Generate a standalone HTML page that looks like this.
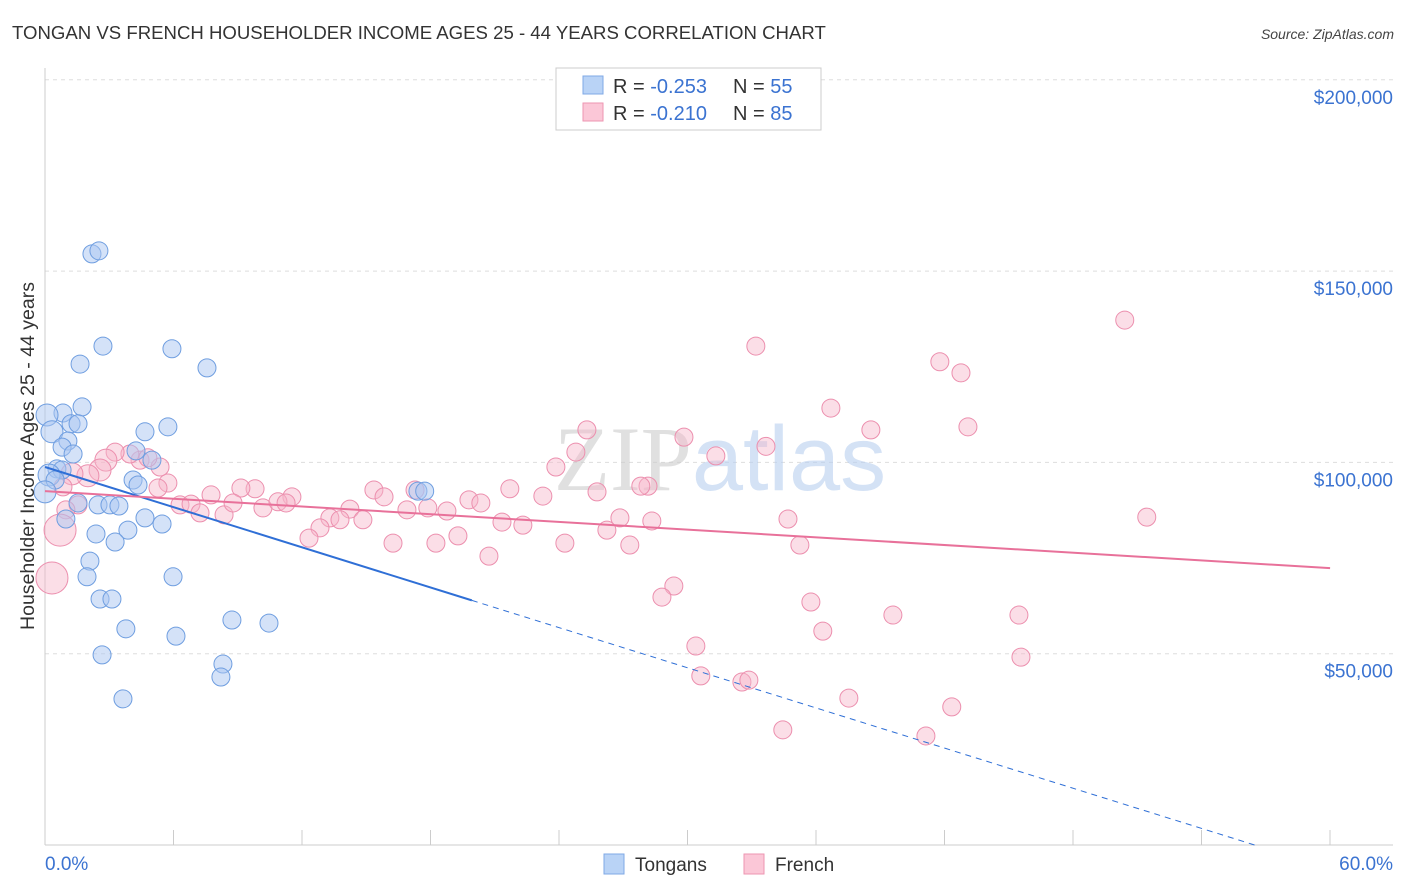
<!DOCTYPE html>
<html><head><meta charset="utf-8"><style>
body{margin:0;background:#fff;font-family:"Liberation Sans",sans-serif;}
svg{display:block}
</style></head><body>
<svg id="chart" width="1406" height="892" viewBox="0 0 1406 892" xmlns="http://www.w3.org/2000/svg">
<text x="12" y="39" font-size="18.6" fill="#333">TONGAN VS FRENCH HOUSEHOLDER INCOME AGES 25 - 44 YEARS CORRELATION CHART</text>
<text x="1394" y="39" font-size="14" font-style="italic" fill="#444" text-anchor="end">Source: ZipAtlas.com</text>
<g id="grid"></g>
<g id="axes"></g>
<text x="720" y="490" font-size="92" text-anchor="middle" fill="#ddd" opacity="0.6"><tspan font-family="Liberation Serif" fill="#ccc">ZIP</tspan><tspan fill="#b8cff0">atlas</tspan></text>
<g id="pts"></g>
<g id="lines"></g>
<text transform="translate(34,456) rotate(-90)" font-size="19.5" fill="#333" text-anchor="middle">Householder Income Ages 25 - 44 years</text>
<g>
<rect x="556" y="68" width="265" height="62" fill="#fff" stroke="#ccc"/>
<rect x="583" y="76" width="20" height="18" fill="#b9d3f6" stroke="#7fa8e6"/>
<rect x="583" y="103" width="20" height="18" fill="#fbc7d7" stroke="#ee96b2"/>
<text x="613" y="93" font-size="20" fill="#333">R = <tspan fill="#3b73d1">-0.253</tspan></text>
<text x="733" y="93" font-size="20" fill="#333">N = <tspan fill="#3b73d1">55</tspan></text>
<text x="613" y="120" font-size="20" fill="#333">R = <tspan fill="#3b73d1">-0.210</tspan></text>
<text x="733" y="120" font-size="20" fill="#333">N = <tspan fill="#3b73d1">85</tspan></text>
</g>
<g>
<rect x="604" y="854" width="20" height="20" fill="#b9d3f6" stroke="#7fa8e6"/>
<text x="635" y="871" font-size="19" fill="#333">Tongans</text>
<rect x="744" y="854" width="20" height="20" fill="#fbc7d7" stroke="#ee96b2"/>
<text x="775" y="871" font-size="19" fill="#333">French</text>
</g>
</svg>
<script>
const yTicks=[50000,100000,150000,200000];
const yTickLabels=["$50,000","$100,000","$150,000","$200,000"];
const xEndLabels=["0.0%","60.0%"];
const tongX=[2.09,2.40,2.58,5.65,1.56,7.21,1.65,0.80,0.09,1.16,1.47,5.47,4.45,0.31,1.02,0.76,4.05,1.25,4.76,0.53,0.76,0.18,0.45,3.92,4.14,0.0,1.47,2.36,2.89,3.29,0.93,4.45,5.21,3.69,2.27,3.12,2.00,1.87,5.70,2.45,2.98,3.60,8.32,9.97,5.83,2.54,7.92,7.83,3.47,16.6,16.9];
const tongY=[154.5,155.3,130.4,129.7,125.7,124.7,114.5,112.9,112.4,110.1,110.1,109.3,108.0,108.0,105.6,104.0,103.0,102.2,100.6,98.3,98.0,96.7,95.4,95.4,94.1,92.3,89.4,88.9,88.9,88.6,85.2,85.5,83.9,82.3,81.3,79.2,74.2,70.1,70.1,64.3,64.3,56.5,58.8,58.0,54.6,49.7,47.3,43.9,38.2,92.5,92.5];
const frX=[48.06,31.64,39.83,40.77,34.98,36.76,41.08,24.12,28.44,32.09,29.86,23.63,22.74,26.84,24.57,26.52,20.69,22.16,18.87,19.40,16.47,14.64,15.09,10.99,9.35,8.72,7.39,5.47,5.03,6.01,6.50,6.90,7.97,8.37,9.70,10.37,10.73,13.57,12.68,13.13,14.15,12.24,11.75,15.49,16.11,17.04,17.89,17.40,18.38,19.76,20.34,21.27,23.14,25.01,25.59,26.03,27.01,33.07,33.60,49.04,4.23,3.78,3.12,2.71,2.45,1.91,1.20,0.80,1.47,0.93,0.67,0.31,27.99,27.46,34.09,37.74,43.35,34.62,28.97,43.44,29.19,31.02,31.33,35.78,40.36,39.21,32.84,5.12,4.58];
const frY=[137.2,130.4,126.3,123.4,114.2,108.5,109.3,108.5,106.6,104.2,101.7,102.7,98.8,93.8,92.3,93.8,93.1,91.2,90.2,89.4,92.8,92.8,91.0,91.0,93.1,93.3,91.5,94.6,93.3,88.9,89.1,86.8,86.3,89.4,88.1,89.7,89.4,87.8,85.5,85.0,85.0,82.9,80.2,78.9,87.6,88.1,87.3,78.9,80.8,75.5,84.4,83.6,78.9,82.3,85.5,78.4,84.7,85.2,78.4,85.7,100.6,102.2,102.7,100.6,98.0,96.5,97.0,93.6,88.9,87.6,82.3,69.8,67.7,64.8,63.5,60.1,60.1,55.9,52.0,49.1,44.2,42.6,43.1,38.4,36.1,28.5,30.1,98.8,101.2];
const tongTrend=[98.8,-1.835];
const frTrend=[92.5,-0.352];
const X=v=>45+v*(1393-45)/60;
const Y=v=>845-v*191.3/50000;
const NS="http://www.w3.org/2000/svg";
function mk(t,a,p){const e=document.createElementNS(NS,t);for(const k in a)e.setAttribute(k,a[k]);p.appendChild(e);return e;}
const grid=document.getElementById('grid'),axes=document.getElementById('axes');
yTicks.forEach((t,i)=>{
 const l=mk('line',{x1:45,x2:1393,y1:Y(t),y2:Y(t),stroke:'#ddd','stroke-dasharray':'4,4'},grid);
 
 
 const tx=mk('text',{x:1393,y:Y(t)+24,'font-size':19,fill:'#3b73d1','text-anchor':'end'},axes);
 tx.textContent=yTickLabels[i];
 
 
});
mk('line',{x1:45,x2:45,y1:68,y2:845,stroke:'#ccc'},axes);
mk('line',{x1:45,x2:1393,y1:845,y2:845,stroke:'#ccc'},axes);
for(let i=1;i<=10;i++){const px=45+i*128.5;const t=mk('line',{x1:px,x2:px,y1:830,y2:845,stroke:'#ccc'},axes);}
const xl0=mk('text',{x:45,y:870,'font-size':19,fill:'#3b73d1'},axes);xl0.textContent=xEndLabels[0];


const xl1=mk('text',{x:1393,y:870,'font-size':19,fill:'#3b73d1','text-anchor':'end'},axes);xl1.textContent=xEndLabels[1];


const pts=document.getElementById('pts');
frX.forEach((x,i)=>{
 const r=(x<1&&frY[i]<85)?16:(x<3&&frY[i]>95?11:9);
 const c=mk('circle',{cx:X(x),cy:Y(frY[i]*1000),r:r,fill:'#f7b6ca','fill-opacity':0.45,stroke:'#ec8fae','stroke-width':1},pts);
 
 
});
tongX.forEach((x,i)=>{
 const r=(x<0.4)?11:9;
 const c=mk('circle',{cx:X(x),cy:Y(tongY[i]*1000),r:r,fill:'#a9c6f2','fill-opacity':0.5,stroke:'#6f9ee0','stroke-width':1},pts);
 
 
});
const lines=document.getElementById('lines');
const tb=v=>(tongTrend[0]+tongTrend[1]*v)*1000;
const l1=mk('line',{x1:X(0),y1:Y(tb(0)),x2:X(19),y2:Y(tb(19)),stroke:'#2f6fd6','stroke-width':2},lines);


const xz=-tongTrend[0]/tongTrend[1];
const l2=mk('line',{x1:X(19),y1:Y(tb(19)),x2:X(xz),y2:Y(0),stroke:'#2f6fd6','stroke-width':1,'stroke-dasharray':'6,5'},lines);


const fb=v=>(frTrend[0]+frTrend[1]*v)*1000;
const l3=mk('line',{x1:X(0),y1:Y(fb(0)),x2:X(57.2),y2:Y(fb(57.2)),stroke:'#e8719a','stroke-width':2},lines);


</script>
</body></html>
